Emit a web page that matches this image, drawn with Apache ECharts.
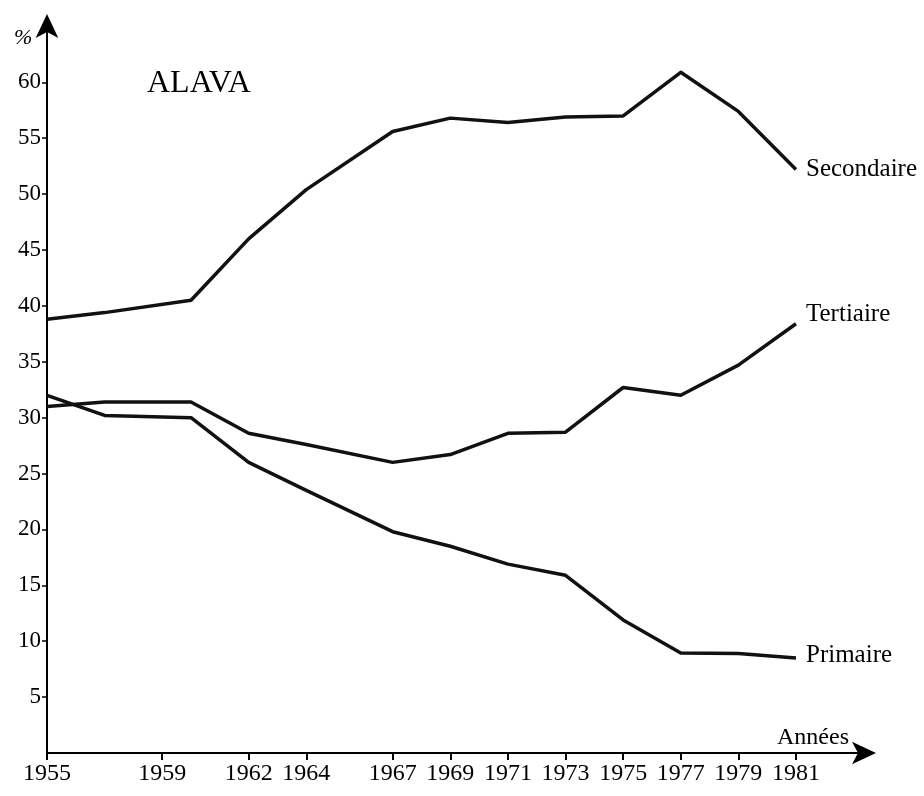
<!DOCTYPE html>
<html>
<head>
<meta charset="utf-8">
<script src="https://cdn.jsdelivr.net/npm/echarts@6/dist/echarts.min.js"></script>
<style>
  html, body { margin: 0; padding: 0; background: #fff; }
  #chart { width: 924px; height: 796px; }
</style>
</head>
<body>
<div id="chart"></div>
<script>
// years where the lines break
const years = [1955, 1957, 1960, 1962, 1964, 1967, 1969, 1971, 1973, 1975, 1977, 1979, 1981]

const secondaire = [38.8, 39.4, 40.5, 46.0, 50.4, 55.6, 56.8, 56.4, 56.9, 57.0, 60.9, 57.4, 52.2]
const tertiaire  = [31.0, 31.4, 31.4, 28.6, 27.6, 26.0, 26.7, 28.6, 28.7, 32.7, 32.0, 34.7, 38.4]
const primaire   = [32.0, 30.2, 30.0, 26.0, 23.5, 19.8, 18.5, 16.9, 15.9, 11.9, 8.95, 8.9, 8.5]

const xTickLabels = [1955, 1959, 1962, 1964, 1967, 1969, 1971, 1973, 1975, 1977, 1979, 1981]
const yTickLabels = [5, 10, 15, 20, 25, 30, 35, 40, 45, 50, 55, 60]

const FONT = 'Liberation Serif'
const INK = '#000'

const pairs = (vals) => years.map((y, i) => [y, vals[i]])

const lineSeries = (name, vals, offset) => ({
  name: name,
  type: 'line',
  data: pairs(vals),
  symbol: 'none',
  lineStyle: { color: '#111', width: 3.5, join: 'round' },
  endLabel: {
    show: true,
    formatter: '{a}',
    distance: 10,
    offset: offset,
    color: INK,
    fontFamily: FONT,
    fontSize: 25
  },
  z: 3
})

const chart = echarts.init(document.getElementById('chart'))

const option = {
  backgroundColor: '#fff',
  animation: false,
  title: {
    text: 'ALAVA',
    left: 142,
    top: 63,
    textStyle: { color: INK, fontFamily: FONT, fontSize: 32, fontWeight: 'normal' }
  },
  grid: { left: 47, right: 56, top: 22, bottom: 43, containLabel: false },
  xAxis: {
    type: 'value',
    min: 1955,
    max: 1983.5,
    splitLine: { show: false },
    axisLine: {
      lineStyle: { color: INK, width: 2 },
      symbol: ['none', 'arrow'],
      symbolSize: [17, 24],
      symbolOffset: [0, 8]
    },
    axisTick: {
      show: true,
      length: 7,
      customValues: xTickLabels,
      lineStyle: { color: INK, width: 2 }
    },
    axisLabel: {
      customValues: xTickLabels,
      color: INK,
      fontFamily: FONT,
      fontSize: 24,
      margin: 9,
      formatter: (v) => String(v)
    }
  },
  yAxis: {
    type: 'value',
    min: 0,
    max: 65.4,
    splitLine: { show: false },
    axisLine: {
      lineStyle: { color: INK, width: 2 },
      symbol: ['none', 'arrow'],
      symbolSize: [17, 24],
      symbolOffset: [0, 8]
    },
    axisTick: {
      show: true,
      length: 5,
      customValues: yTickLabels,
      lineStyle: { color: INK, width: 1.5 }
    },
    axisLabel: {
      customValues: yTickLabels,
      color: INK,
      fontFamily: FONT,
      fontSize: 23,
      margin: 6
    }
  },
  graphic: [
    {
      type: 'text',
      left: 14,
      top: 27,
      style: { text: '%', fill: INK, font: 'italic 22px "Liberation Serif"' }
    },
    {
      type: 'text',
      left: 777,
      top: 726,
      style: { text: 'Années', fill: INK, font: '24px "Liberation Serif"' }
    }
  ],
  series: [
    lineSeries('Secondaire', secondaire, [0, 0]),
    lineSeries('Tertiaire', tertiaire, [0, -9]),
    lineSeries('Primaire', primaire, [0, -3])
  ]
}

chart.setOption(option)
</script>
</body>
</html>
